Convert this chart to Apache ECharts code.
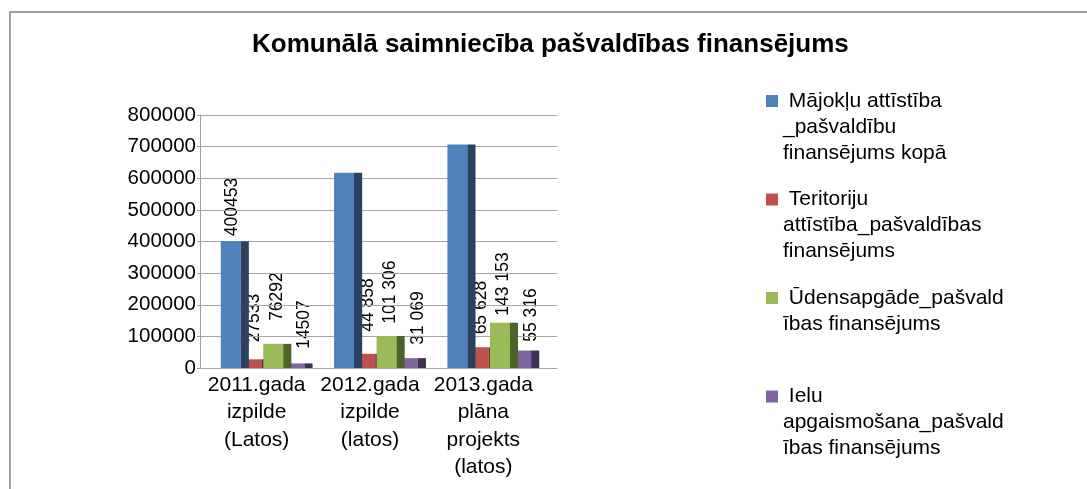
<!DOCTYPE html>
<html>
<head>
<meta charset="utf-8">
<title>Komunālā saimniecība pašvaldības finansējums</title>
<script src="https://cdn.jsdelivr.net/npm/echarts@6.0.0/dist/echarts.min.js"></script>
<style>
  html, body { margin: 0; padding: 0; background: #fff; }
  #chart { width: 1087px; height: 489px; }
</style>
</head>
<body>
<div id="chart"></div>
<script>
// dati no attēla
const categories = ['2011.gada izpilde (Latos)', '2012.gada izpilde (latos)', '2013.gada plāna projekts (latos)'];
const majokli = [400453, 617442, 707036];
const teritorijas = [27533, 44858, 65628];
const udensapgade = [76292, 101306, 143153];
const apgaismosana = [14507, 31069, 55316];
// kur stāv katra vērtības uzraksta centrs (vērtību skalā)
const labelAnchors = [
  [509000, 300000, 363600],
  [158000, 199000, 191000],
  [226000, 240000, 265600],
  [137500, 158000, 167600]
];

const seriesNames = [
  ' Mājokļu attīstība\n_pašvaldību\nfinansējums kopā',
  ' Teritoriju\nattīstība_pašvaldības\nfinansējums',
  ' Ūdensapgāde_pašvald\nības finansējums',
  ' Ielu\napgaismošana_pašvald\nības finansējums'
];
const seriesValues = [majokli, teritorijas, udensapgade, apgaismosana];

const FONT = 'Liberation Sans';
const frontColors = ['#4f81bd', '#c0504d', '#9bbb59', '#8064a2'];
const sideColors = ['#2a4260', '#632826', '#4f6228', '#3f3151'];
// garākie stabi pārklāj blakus esošos
const seriesZ = [5, 3, 4, 3];
const labelDx = [-0.296, -0.102, 0.095, 0.339];
const legendTops = [36, 134.5, 259, 331.5];

function fmtValue(v, c) {
  // 2011. gada uzrakstiem nav atstarpju
  return c === 0 ? String(v) : String(v).replace(/\B(?=(\d{3})+(?!\d))/g, ' ');
}

function barRenderer(s) {
  return function (params, api) {
    const c = api.value(0);
    const top = api.coord([c, api.value(1)]);
    const base = api.coord([c, 0]);
    const band = api.size([1, 0])[0];
    const fw = band * 0.176;
    const sw = band * 0.072;
    const x0 = top[0] + band * (-0.399 + s * 0.1875);
    const h = base[1] - top[1];
    return {
      type: 'group',
      children: [
        { type: 'rect', shape: { x: x0, y: top[1], width: fw, height: h }, style: { fill: frontColors[s] } },
        { type: 'rect', shape: { x: x0 + fw, y: top[1], width: sw, height: h }, style: { fill: sideColors[s] } }
      ]
    };
  };
}

const barSeries = seriesValues.map((vals, s) => ({
  type: 'custom',
  name: seriesNames[s],
  xAxisIndex: 2,
  yAxisIndex: 2,
  z: seriesZ[s],
  itemStyle: { color: frontColors[s] },
  encode: { x: 0, y: 1 },
  renderItem: barRenderer(s),
  data: vals.map((v, i) => [i, v])
}));

const labelData = [];
seriesValues.forEach((vals, s) => {
  vals.forEach((v, c) => labelData.push([c, s, v, labelAnchors[s][c]]));
});

const labelSeries = {
  type: 'custom',
  name: 'uzraksti',
  xAxisIndex: 2,
  yAxisIndex: 2,
  z: 0,
  silent: true,
  encode: { x: 0, y: 3 },
  renderItem: function (params, api) {
    const c = api.value(0);
    const s = api.value(1);
    const pt = api.coord([c, api.value(3)]);
    const band = api.size([1, 0])[0];
    return {
      type: 'text',
      x: pt[0] + band * labelDx[s],
      y: pt[1],
      rotation: Math.PI / 2,
      style: {
        text: fmtValue(api.value(2), c),
        fontFamily: FONT,
        fontSize: 17.5,
        fill: '#000',
        align: 'center',
        verticalAlign: 'middle'
      }
    };
  },
  data: labelData
};

// ikona pie pirmās rindas: priekšā tukšas rindas, lai bloks būtu centrēts pret ikonu
const legends = seriesNames.map((name, i) => {
  const lines = name.split('\n').length;
  return {
    data: [name],
    orient: 'vertical',
    left: 766,
    top: legendTops[i],
    padding: 0,
    icon: 'rect',
    itemWidth: 12,
    itemHeight: 12,
    selectedMode: false,
    formatter: n => '\n'.repeat(lines - 1) + n,
    textStyle: {
      fontFamily: FONT,
      fontSize: 21,
      lineHeight: 26,
      color: '#000'
    }
  };
});

const chart = echarts.init(document.getElementById('chart'));
chart.setOption({
  animation: false,
  backgroundColor: '#fff',
  title: {
    text: 'Komunālā saimniecība pašvaldības finansējums',
    left: 252,
    top: 32,
    padding: 0,
    textStyle: { fontFamily: FONT, fontSize: 26, fontWeight: 'bold', color: '#000' }
  },
  legend: legends,
  graphic: [{
    type: 'rect',
    silent: true,
    z: -1,
    shape: { x: 10, y: 12, width: 1100, height: 500 },
    style: { fill: 'none', stroke: '#a0a0a0', lineWidth: 2 }
  }],
  grid: [
    // aizmugurējā siena ar režģa līnijām
    { left: 200, right: 530, top: 115, bottom: 121 },
    // priekšējā plakne kategoriju uzrakstiem
    { left: 200, right: 547, top: 115, bottom: 121 },
    // stabi, nobīdīti dziļumā
    { left: 209.3, right: 537.7, top: 115, bottom: 121 }
  ],
  xAxis: [
    {
      gridIndex: 0,
      type: 'category',
      data: categories,
      axisLine: { lineStyle: { color: '#a0a0a0', width: 1 } },
      axisTick: { show: false },
      axisLabel: { show: false }
    },
    {
      gridIndex: 1,
      type: 'category',
      data: categories,
      axisLine: { show: false },
      axisTick: { show: false },
      axisLabel: {
        interval: 0,
        margin: 3,
        fontFamily: FONT,
        fontSize: 21,
        lineHeight: 27.5,
        color: '#000',
        formatter: v => v.split(' ').join('\n')
      }
    },
    {
      gridIndex: 2,
      type: 'category',
      data: categories,
      show: false
    }
  ],
  yAxis: [
    {
      gridIndex: 0,
      type: 'value',
      min: 0,
      max: 800000,
      interval: 100000,
      z: 1,
      axisLine: { show: true, lineStyle: { color: '#a0a0a0', width: 1 } },
      axisTick: { show: true, length: 3, lineStyle: { color: '#a0a0a0' } },
      splitLine: { lineStyle: { color: '#a6a6a6', width: 1 } },
      axisLabel: { margin: 4, fontFamily: FONT, fontSize: 20.5, color: '#000', formatter: v => String(v) }
    },
    { gridIndex: 1, type: 'value', min: 0, max: 800000, show: false },
    { gridIndex: 2, type: 'value', min: 0, max: 800000, show: false }
  ],
  series: [labelSeries].concat(barSeries)
});
</script>
</body>
</html>
